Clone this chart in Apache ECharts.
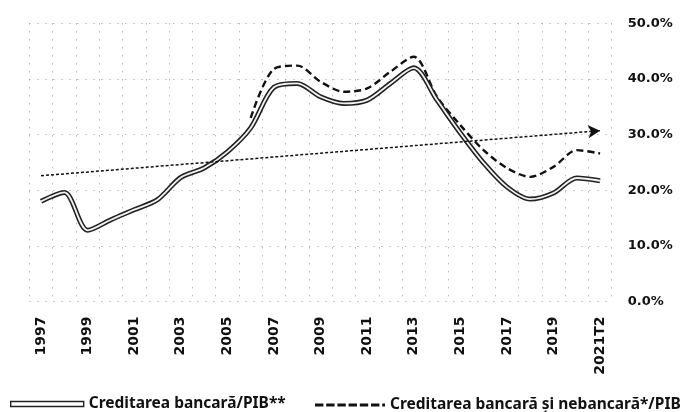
<!DOCTYPE html>
<html><head><meta charset="utf-8">
<script src="https://cdn.jsdelivr.net/npm/echarts@6/dist/echarts.min.js"></script>
<style>html,body{margin:0;padding:0;background:#fff}#c{width:685px;height:412px}</style>
</head><body><div id="c"></div>
<script>
const categories = ['1997','1998','1999','2000','2001','2002','2003','2004','2005','2006','2007','2008','2009','2010','2011','2012','2013','2014','2015','2016','2017','2018','2019','2020','2021T2'];
const bankCredit = [18.0,19.6,12.8,14.7,16.5,18.3,22.3,24.0,26.9,31.2,38.5,39.2,36.8,35.6,36.2,39.2,42.0,36.2,30.3,24.9,20.6,18.4,19.5,22.2,21.7];
const totalCredit = [null,null,null,null,null,null,null,null,null,33.0,41.8,42.4,39.5,37.7,38.3,41.3,44.0,36.8,31.7,27.2,24.0,22.4,24.2,27.2,26.6];
const trendStart = 22.6;
const trendEnd = 30.7;
const yTicks = [0,10,20,30,40,50];
const nameBank = 'Creditarea bancară/PIB**';
const nameTotal = 'Creditarea bancară și nebancară*/PIB';

const dashIcon = 'path://M0,0h9v3h-9z M12,0h9v3h-9z M24,0h9v3h-9z M36,0h9v3h-9z M48,0h9v3h-9z M60,0h9v3h-9z M72,0h3v3h-3z';

const chart = echarts.init(document.getElementById('c'), null, {renderer:'canvas'});
const legendText = {fontFamily:'Noto Sans', fontWeight:'bold', fontSize:15.5, color:'#111'};
chart.setOption({
  animation:false,
  grid:{left:29.4, right:73.3, top:23.3, bottom:110.5},
  xAxis:{
    type:'category', data:categories, boundaryGap:true,
    axisLine:{show:false}, axisTick:{show:false},
    axisLabel:{interval:1, rotate:90, margin:15, fontFamily:'DejaVu Sans', fontWeight:'bold', fontSize:14, color:'#111'},
    splitLine:{show:true, interval:0, lineStyle:{color:'#999', width:1, type:[1,7]}}
  },
  yAxis:{
    type:'value', position:'right', min:yTicks[0], max:yTicks[yTicks.length-1], interval:10,
    axisLine:{show:false}, axisTick:{show:false},
    axisLabel:{margin:16, fontFamily:'DejaVu Sans', fontWeight:'bold', fontSize:13, color:'#111', formatter:v=>v.toFixed(1)+'%'},
    splitLine:{show:true, lineStyle:{color:'#999', width:1, type:[1,7]}}
  },
  legend:[
    {left:10, top:396, padding:0, itemWidth:73, itemHeight:5, textStyle:legendText,
     data:[{name:nameBank, icon:'rect', itemStyle:{color:'#fff', borderColor:'#222', borderWidth:1.4}}]},
    {left:315, top:397, padding:0, itemWidth:70, itemHeight:3, textStyle:legendText,
     data:[{name:nameTotal, icon:dashIcon, itemStyle:{color:'#111', borderWidth:0}}]}
  ],
  series:[
    {name:nameBank, type:'line', data:bankCredit, smooth:0.3, symbol:'none', z:3,
     lineStyle:{color:'#222', width:5}, itemStyle:{color:'#222'}},
    {name:'_inner', type:'line', data:bankCredit, smooth:0.3, symbol:'none', z:4,
     lineStyle:{color:'#f2f2f2', width:1.8}, silent:true},
    {name:nameTotal, type:'line', data:totalCredit, smooth:0.3, symbol:'none', z:2,
     lineStyle:{color:'#111', width:2.4, type:[7,4]}, itemStyle:{color:'#111'},
     markLine:{silent:true, symbol:['none','arrow'], symbolSize:[10,12], label:{show:false},
       lineStyle:{color:'#111', width:1.5, type:[3,2]},
       data:[[{coord:[0,trendStart]},{coord:[categories.length-1,trendEnd]}]]}}
  ]
});
</script></body></html>
